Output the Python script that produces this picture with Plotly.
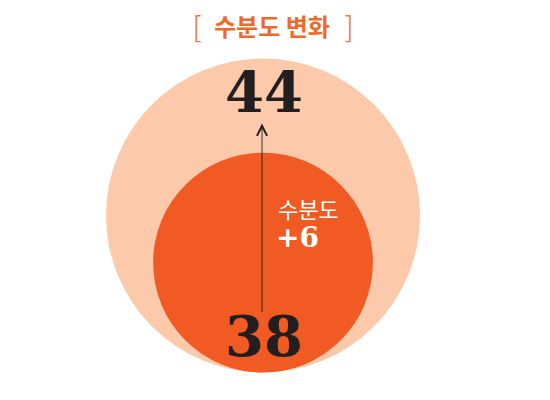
import plotly.graph_objects as go

# 수분도 변화 (전 -> 후)
stages = ["전", "후"]
values = [38, 44]
title_text = "수분도 변화"
delta_name = "수분도"

delta = values[1] - values[0]

# 원 크기 스케일 (값 -> 반지름, 화면 단위)
R_BASE = 24
R_PER_UNIT = 7.85
CX = 263
BASELINE = 372.5

colors = ["#F15A22", "#FCCAAB"]
ink = "#231F20"


def radius(v):
    return (v - R_BASE) * R_PER_UNIT


fig = go.Figure()

# 큰 원이 먼저 (뒤에 깔리도록)
for v, c in sorted(zip(values, colors), key=lambda t: -t[0]):
    r = radius(v)
    fig.add_shape(type="circle", xref="x", yref="y",
                  x0=CX - r, x1=CX + r, y0=BASELINE - 2 * r, y1=BASELINE,
                  fillcolor=c, line=dict(width=0), layer="below")

r_after = radius(values[1])
y_after = BASELINE - 2 * r_after + 39
y_before = BASELINE - 31

fig.add_trace(go.Scatter(
    x=[CX + 1, CX + 1], y=[y_before, y_after],
    mode="text",
    text=[str(values[0]), str(values[1])],
    textposition="middle center",
    textfont=dict(family="DejaVu Serif", size=56, color=ink, weight="bold"),
    hoverinfo="skip", showlegend=False,
))

# 화살표
fig.add_annotation(x=CX - 1, y=y_after + 26, ax=CX - 1, ay=y_before - 28,
                   xref="x", yref="y", axref="x", ayref="y",
                   text="", showarrow=True, arrowhead=5, arrowsize=2.2,
                   arrowwidth=0.9, arrowcolor=ink, standoff=0, startstandoff=0)

# 변화량
fig.add_annotation(x=CX + 13, y=y_before - 134, xref="x", yref="y",
                   text=delta_name, showarrow=False, xanchor="left",
                   font=dict(family="Noto Sans CJK KR", size=22, color="white"))
fig.add_annotation(x=CX + 11, y=y_before - 104, xref="x", yref="y",
                   text=f"+{delta}", showarrow=False, xanchor="left",
                   font=dict(family="DejaVu Serif", size=28, color="white", weight="bold"))

# 제목
fig.add_annotation(x=272, y=25, xref="x", yref="y", text=title_text,
                   showarrow=False,
                   font=dict(family="Noto Sans CJK KR", size=24, color="#EE6A2A", weight="bold"))
for ch, bx in [("[", 198), ("]", 348)]:
    fig.add_annotation(x=bx, y=27, xref="x", yref="y", text=ch, showarrow=False,
                       font=dict(family="DejaVu Sans", size=31, color="#F07A3C", weight=200))

# 페이지 여백(8px)을 감안해 좌표를 맞춤
fig.update_layout(
    width=542, height=392,
    margin=dict(l=0, r=0, t=0, b=0),
    paper_bgcolor="white", plot_bgcolor="white",
    xaxis=dict(range=[8, 550], visible=False, fixedrange=True),
    yaxis=dict(range=[400, 8], visible=False, fixedrange=True),
    showlegend=False,
)

fig.write_html("out.html")
